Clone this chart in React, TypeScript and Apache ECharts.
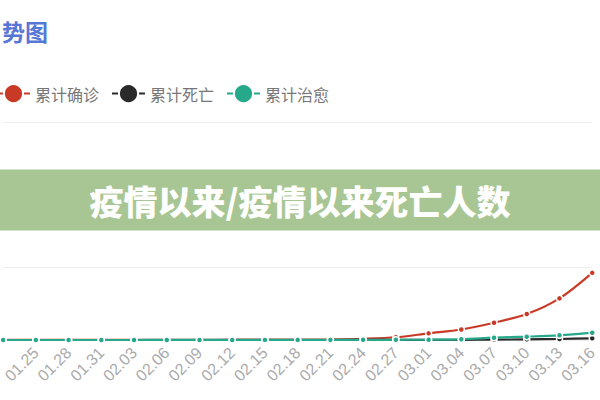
import { useEffect, useRef } from "react";
import * as echarts from "echarts";

// 日期（每三天一个点），第一个点在画面左侧之外
const dates = [
  "01.22", "01.25", "01.28", "01.31", "02.03", "02.06", "02.09", "02.12", "02.15",
  "02.18", "02.21", "02.24", "02.27", "03.01", "03.04", "03.07", "03.10", "03.13", "03.16",
];
const confirmed = [
  10, 20, 30, 40, 50, 60, 70, 80, 90, 100, 180, 350, 750, 1840, 2890, 4760, 7150, 11470, 18510,
];
const deaths = [0, 0, 0, 0, 0, 0, 0, 0, 0, 0, 5, 10, 20, 40, 60, 90, 190, 280, 470];
const cured = [0, 0, 0, 0, 5, 10, 15, 20, 25, 30, 40, 50, 60, 80, 190, 630, 910, 1290, 2010];

const CJK = "'Noto Sans CJK SC', sans-serif";

const App: React.FC = () => {
  const chartRef = useRef<HTMLDivElement>(null);

  useEffect(() => {
    const myChart = echarts.init(chartRef.current!, null, { renderer: "svg" });

    const lineSeries = (name: string, data: number[], color: string) => ({
      name,
      type: "line" as const,
      data,
      smooth: 0.3,
      symbol: "circle",
      symbolSize: 6,
      color,
      lineStyle: { width: 2.2, color },
      itemStyle: { color, borderColor: "#fff", borderWidth: 1.5 },
    });

    const option: echarts.EChartsOption = {
      animation: false,
      title: {
        text: "势图",
        left: -3,
        top: 14,
        textStyle: { fontSize: 23, fontWeight: "bold", color: "#5677d6", fontFamily: CJK },
      },
      legend: {
        left: -9,
        top: 78,
        itemWidth: 33,
        itemHeight: 24,
        itemGap: 12,
        textStyle: { fontSize: 16, color: "#777", fontFamily: CJK },
        data: ["累计确诊", "累计死亡", "累计治愈"],
      },
      grid: { left: -17.4, right: 3.6, top: 122.3, bottom: 60 },
      xAxis: {
        type: "category",
        data: dates,
        boundaryGap: false,
        axisLine: { show: false },
        axisTick: { show: false },
        axisLabel: {
          rotate: 45,
          color: "#aaa",
          fontSize: 16,
          margin: 10,
          interval: (index: number) => index > 0,
        },
      },
      yAxis: {
        type: "value",
        min: 0,
        max: 60000,
        interval: 20000,
        axisLabel: { show: false },
        axisLine: { show: false },
        axisTick: { show: false },
        splitLine: { lineStyle: { color: "#eeeeee" } },
      },
      series: [
        lineSeries("累计确诊", confirmed, "#c93a26"),
        lineSeries("累计死亡", deaths, "#2a2a2a"),
        lineSeries("累计治愈", cured, "#26a98a"),
      ],
      graphic: [
        {
          type: "rect",
          z: 100,
          shape: { x: 0, y: 169.5, width: 600, height: 61 },
          style: { fill: "#a8c693" },
        },
        {
          type: "text",
          z: 101,
          x: 300,
          y: 200,
          style: {
            text: "疫情以来/疫情以来死亡人数",
            fill: "#fff",
            fontSize: 34,
            fontWeight: 900,
            fontFamily: CJK,
            textAlign: "center",
            textVerticalAlign: "middle",
          },
        },
      ],
    };
    myChart.setOption(option);

    const handleResize = () => myChart.resize();
    window.addEventListener("resize", handleResize);
    return () => {
      window.removeEventListener("resize", handleResize);
      myChart.dispose();
    };
  }, []);

  return (
    <div
      ref={chartRef}
      style={{ position: "fixed", left: 0, top: 0, width: "600px", height: "400px", background: "#fff" }}
    />
  );
};

export default App;
